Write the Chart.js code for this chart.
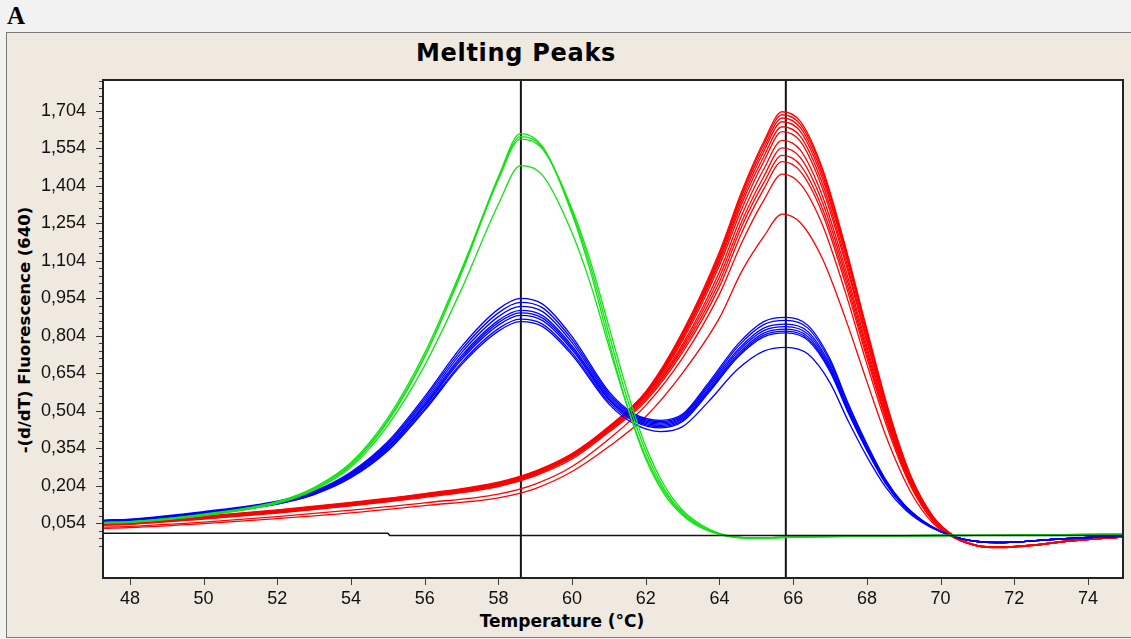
<!DOCTYPE html>
<html>
<head>
<meta charset="utf-8">
<script src="https://cdn.jsdelivr.net/npm/chart.js@4.4.1/dist/chart.umd.min.js"></script>
<style>
  html,body{margin:0;padding:0;background:#f2f2f2;width:1131px;height:639px;overflow:hidden;}
  #lblA{position:absolute;left:7px;top:3px;font-family:"Liberation Serif",serif;font-weight:bold;font-size:25px;line-height:25px;color:#000;}
  #frame{position:absolute;left:6px;top:32px;width:1135px;height:604px;background:#f0e9e0;border:1px solid #7a7a7a;}
  #title{position:absolute;left:316px;top:41px;width:400px;text-align:center;font-family:"DejaVu Sans",sans-serif;font-weight:bold;font-size:24px;line-height:24px;letter-spacing:0.7px;color:#000;}
  #xtitle{position:absolute;left:362px;top:613px;width:400px;text-align:center;font-family:"DejaVu Sans",sans-serif;font-weight:bold;font-size:17px;line-height:17px;color:#000;}
  #ytitle{position:absolute;left:24px;top:330px;transform:translate(-50%,-50%) rotate(-90deg);white-space:nowrap;font-family:"DejaVu Sans",sans-serif;font-weight:bold;font-size:16.5px;line-height:17px;color:#000;}
  #c{position:absolute;left:0;top:0;}
</style>
</head>
<body>
<div id="lblA">A</div>
<div id="frame"></div>
<div id="title">Melting Peaks</div>
<div id="xtitle">Temperature (°C)</div>
<div id="ytitle">-(d/dT) Fluorescence (640)</div>
<canvas id="c" width="1131" height="639"></canvas>
<script>
// ---------- axes ----------
const xTickValues = [48,50,52,54,56,58,60,62,64,66,68,70,72,74];
const xTickLabels = ['48','50','52','54','56','58','60','62','64','66','68','70','72','74'];
const yTickValues = [0.054,0.204,0.354,0.504,0.654,0.804,0.954,1.104,1.254,1.404,1.554,1.704];
const yTickLabels = ['0,054','0,204','0,354','0,504','0,654','0,804','0,954','1,104','1,254','1,404','1,554','1,704'];
const xMin = 47.27, xMax = 74.95, yMin = -0.166, yMax = 1.827;

// ---------- cursors and baseline ----------
const cursorTemps = [58.61, 65.80];
const baselineX = [47.27, 55.0, 55.05, 74.95];
const baselineY = [0.013, 0.013, 0.004, 0.004];

// ---------- green curves ----------
const greenX = [47.3,48,50,52,53,54,55,56,57,58,58.6,59.2,60,60.5,61,61.5,62,62.5,63,63.5,64,64.5,65,66,68,70,72,74,75];
const green1 = [0.055,0.058,0.085,0.135,0.19,0.285,0.46,0.72,1.06,1.44,1.612,1.56,1.29,1.06,0.78,0.52,0.31,0.17,0.085,0.035,0.008,-0.004,-0.006,-0.002,0.002,0.004,0.005,0.008,0.01];
const green2 = [0.056,0.06,0.088,0.138,0.194,0.29,0.465,0.72,1.055,1.43,1.60,1.555,1.30,1.08,0.81,0.55,0.34,0.19,0.097,0.042,0.011,-0.003,-0.006,-0.002,0.002,0.004,0.005,0.008,0.01];
const green3 = [0.057,0.06,0.09,0.14,0.196,0.296,0.475,0.735,1.07,1.43,1.59,1.55,1.31,1.10,0.84,0.58,0.36,0.205,0.105,0.047,0.013,-0.002,-0.006,-0.002,0.002,0.004,0.005,0.008,0.01];
const green4 = [0.054,0.057,0.084,0.133,0.186,0.278,0.445,0.685,0.99,1.33,1.484,1.445,1.215,1.01,0.76,0.52,0.32,0.18,0.09,0.038,0.009,-0.004,-0.006,-0.002,0.002,0.004,0.005,0.008,0.01];

// ---------- blue curves ----------
const blueX = [47.3,48,50,52,53,54,55,56,57,58,58.6,59.2,60,61,61.7,62.4,63,63.7,64.5,65.2,65.8,66.4,67,67.5,68,68.5,69,69.5,70,70.5,71,71.5,72,73,74,75];
const blue1 = [0.066,0.07,0.1,0.142,0.182,0.258,0.38,0.56,0.76,0.91,0.953,0.93,0.8,0.58,0.49,0.465,0.49,0.615,0.77,0.86,0.877,0.845,0.71,0.53,0.37,0.23,0.13,0.065,0.022,-0.006,-0.02,-0.024,-0.022,-0.012,-0.004,0.002];
const blue2 = [0.064,0.068,0.097,0.139,0.179,0.254,0.374,0.551,0.748,0.895,0.937,0.915,0.788,0.572,0.485,0.46,0.485,0.607,0.76,0.848,0.865,0.834,0.7,0.523,0.365,0.227,0.128,0.064,0.021,-0.006,-0.02,-0.024,-0.022,-0.012,-0.004,0.002];
const blue3 = [0.062,0.066,0.095,0.136,0.176,0.25,0.368,0.542,0.736,0.88,0.921,0.9,0.776,0.565,0.48,0.455,0.48,0.6,0.748,0.834,0.85,0.82,0.688,0.514,0.358,0.223,0.126,0.063,0.021,-0.006,-0.02,-0.024,-0.022,-0.012,-0.004,0.002];
const blue4 = [0.063,0.067,0.096,0.137,0.177,0.248,0.362,0.533,0.724,0.865,0.905,0.884,0.763,0.557,0.475,0.45,0.475,0.592,0.74,0.824,0.84,0.81,0.68,0.508,0.354,0.22,0.124,0.062,0.02,-0.006,-0.02,-0.024,-0.022,-0.012,-0.004,0.002];
const blue5 = [0.06,0.064,0.093,0.134,0.173,0.244,0.357,0.526,0.716,0.856,0.895,0.874,0.755,0.551,0.47,0.445,0.47,0.585,0.731,0.814,0.83,0.8,0.672,0.502,0.35,0.218,0.123,0.061,0.02,-0.006,-0.02,-0.024,-0.022,-0.012,-0.004,0.002];
const blue6 = [0.061,0.065,0.094,0.135,0.174,0.242,0.353,0.52,0.708,0.846,0.885,0.864,0.747,0.546,0.465,0.44,0.465,0.58,0.724,0.806,0.822,0.792,0.666,0.497,0.347,0.216,0.122,0.061,0.02,-0.006,-0.02,-0.024,-0.022,-0.012,-0.004,0.002];
const blue7 = [0.059,0.063,0.091,0.131,0.17,0.238,0.347,0.511,0.696,0.832,0.87,0.85,0.735,0.538,0.46,0.435,0.46,0.574,0.718,0.799,0.815,0.785,0.66,0.493,0.344,0.214,0.121,0.06,0.019,-0.006,-0.02,-0.024,-0.022,-0.012,-0.004,0.002];
const blue8 = [0.058,0.062,0.09,0.13,0.168,0.235,0.343,0.505,0.688,0.822,0.86,0.84,0.726,0.53,0.45,0.42,0.44,0.54,0.67,0.742,0.757,0.73,0.615,0.46,0.32,0.2,0.113,0.056,0.018,-0.006,-0.02,-0.024,-0.022,-0.012,-0.004,0.002];

// ---------- red curves ----------
const redX = [47.3,48,50,52,54,56,58,59,60,61,62,63,64,64.6,65.2,65.7,66.2,66.8,67.4,68,68.6,69.2,69.8,70.4,71,71.6,72.5,73.5,74.5,75];
const red1  = [0.055,0.058,0.08,0.105,0.135,0.17,0.215,0.26,0.33,0.44,0.58,0.82,1.14,1.38,1.58,1.70,1.66,1.47,1.17,0.83,0.5,0.24,0.08,0.0,-0.035,-0.042,-0.035,-0.018,-0.006,-0.002];
const red2  = [0.052,0.056,0.078,0.103,0.133,0.168,0.212,0.257,0.326,0.436,0.575,0.812,1.13,1.37,1.57,1.688,1.648,1.46,1.16,0.82,0.495,0.237,0.078,-0.002,-0.036,-0.043,-0.035,-0.018,-0.006,-0.002];
const red3  = [0.058,0.061,0.082,0.107,0.137,0.172,0.218,0.262,0.332,0.44,0.578,0.81,1.12,1.36,1.555,1.675,1.635,1.445,1.15,0.815,0.49,0.235,0.077,-0.002,-0.036,-0.042,-0.034,-0.017,-0.006,-0.002];
const red4  = [0.05,0.054,0.076,0.1,0.13,0.165,0.21,0.255,0.325,0.435,0.572,0.8,1.11,1.345,1.54,1.66,1.62,1.43,1.14,0.805,0.485,0.232,0.075,-0.003,-0.037,-0.043,-0.035,-0.018,-0.006,-0.002];
const red5  = [0.056,0.059,0.08,0.104,0.134,0.168,0.214,0.258,0.328,0.437,0.57,0.795,1.1,1.33,1.52,1.64,1.6,1.41,1.12,0.79,0.475,0.228,0.073,-0.003,-0.036,-0.042,-0.034,-0.017,-0.005,-0.002];
const red6  = [0.048,0.052,0.074,0.098,0.127,0.162,0.206,0.25,0.32,0.43,0.565,0.785,1.085,1.31,1.5,1.62,1.58,1.39,1.105,0.78,0.47,0.225,0.072,-0.004,-0.037,-0.043,-0.035,-0.018,-0.006,-0.002];
const red7  = [0.053,0.057,0.078,0.102,0.131,0.165,0.209,0.252,0.322,0.43,0.56,0.77,1.06,1.285,1.47,1.585,1.545,1.36,1.08,0.76,0.46,0.22,0.07,-0.004,-0.036,-0.042,-0.034,-0.017,-0.005,-0.002];
const red8  = [0.047,0.05,0.072,0.096,0.125,0.16,0.203,0.247,0.316,0.424,0.552,0.76,1.04,1.26,1.44,1.555,1.515,1.335,1.06,0.745,0.45,0.215,0.068,-0.005,-0.037,-0.043,-0.035,-0.018,-0.006,-0.002];
const red9  = [0.051,0.055,0.076,0.1,0.129,0.163,0.207,0.25,0.318,0.425,0.55,0.75,1.02,1.24,1.415,1.525,1.485,1.31,1.04,0.73,0.44,0.21,0.066,-0.005,-0.036,-0.042,-0.034,-0.017,-0.005,-0.002];
const red10 = [0.045,0.049,0.07,0.094,0.123,0.157,0.2,0.243,0.31,0.418,0.542,0.738,1.0,1.215,1.39,1.50,1.46,1.29,1.02,0.715,0.43,0.205,0.064,-0.006,-0.037,-0.043,-0.035,-0.018,-0.006,-0.002];
const red11 = [0.038,0.041,0.058,0.08,0.106,0.135,0.17,0.21,0.28,0.39,0.525,0.715,0.97,1.175,1.345,1.45,1.41,1.245,0.985,0.69,0.415,0.198,0.06,-0.007,-0.038,-0.044,-0.036,-0.018,-0.006,-0.002];
const red12 = [0.033,0.036,0.052,0.072,0.095,0.124,0.155,0.192,0.26,0.36,0.48,0.655,0.875,1.06,1.2,1.29,1.255,1.11,0.88,0.62,0.37,0.175,0.052,-0.008,-0.038,-0.044,-0.036,-0.018,-0.006,-0.002];

const GREEN = '#10e410', BLUE = '#0000ff', RED = '#ff0000', BLACK = '#141414';

function pts(xs, ys){ return xs.map((x,i)=>({x:x, y:ys[i]})); }
function curve(xs, ys, color){
  return {data: pts(xs, ys), borderColor: color, borderWidth: 1.3, pointRadius: 0,
          fill: false, cubicInterpolationMode: 'monotone'};
}

const datasets = [];
datasets.push({data: pts(baselineX, baselineY), borderColor: BLACK, borderWidth: 1.6, pointRadius: 0, tension: 0});
[green1, green2, green3, green4].forEach(g => datasets.push(curve(greenX, g, GREEN)));
[blue1, blue2, blue3, blue4, blue5, blue6, blue7, blue8].forEach(b => datasets.push(curve(blueX, b, BLUE)));
[red1, red2, red3, red4, red5, red6, red7, red8, red9, red10, red11, red12].forEach(r => datasets.push(curve(redX, r, RED)));
cursorTemps.forEach(t => datasets.push({data: [{x:t, y:yMin}, {x:t, y:yMax}], borderColor: BLACK, borderWidth: 2, pointRadius: 0, tension: 0}));

const framePlugin = {
  id: 'frameDeco',
  beforeDraw(chart){
    const {ctx, chartArea: a} = chart;
    ctx.save();
    ctx.fillStyle = '#ffffff';
    ctx.fillRect(a.left, a.top, a.right - a.left, a.bottom - a.top);
    ctx.restore();
  },
  afterDraw(chart){
    const {ctx, chartArea: a, scales} = chart;
    const xs = scales.x, ys = scales.y;
    ctx.save();
    ctx.strokeStyle = '#3c3c3c';
    ctx.lineWidth = 1;
    ctx.beginPath();
    for (let k = -3; k <= 59; k++) {
      const v = 0.054 + 0.03 * k;
      const py = Math.round(ys.getPixelForValue(v)) + 0.5;
      const len = (k % 5 === 0) ? 7 : 4;
      ctx.moveTo(a.left - len, py); ctx.lineTo(a.left, py);
    }
    xTickValues.forEach(v => {
      const px = Math.round(xs.getPixelForValue(v)) + 0.5;
      ctx.moveTo(px, a.bottom); ctx.lineTo(px, a.bottom + 7);
    });
    ctx.stroke();
    ctx.strokeStyle = '#222';
    ctx.lineWidth = 2;
    ctx.strokeRect(a.left, a.top, a.right - a.left, a.bottom - a.top);
    ctx.restore();
  }
};

new Chart(document.getElementById('c'), {
  type: 'line',
  data: {datasets},
  plugins: [framePlugin],
  options: {
    responsive: false,
    devicePixelRatio: 1,
    animation: false,
    events: [],
    layout: {padding: {top: 80, right: 8, left: 0, bottom: 0}},
    plugins: {legend: {display: false}, tooltip: {enabled: false}, title: {display: false}},
    scales: {
      x: {
        type: 'linear', min: xMin, max: xMax,
        grid: {display: false}, border: {display: false},
        afterBuildTicks: s => { s.ticks = xTickValues.map(v => ({value: v})); },
        afterFit: s => { s.height = 61; },
        ticks: {autoSkip: false, maxRotation: 0, padding: 2, color: '#111',
                font: {family: '"Liberation Sans", Arial, sans-serif', size: 18},
                callback: (v, i) => xTickLabels[i]}
      },
      y: {
        type: 'linear', min: yMin, max: yMax,
        grid: {display: false}, border: {display: false},
        afterBuildTicks: s => { s.ticks = yTickValues.map(v => ({value: v})); },
        afterFit: s => { s.width = 103; },
        ticks: {autoSkip: false, padding: 9, color: '#111',
                font: {family: '"Liberation Sans", Arial, sans-serif', size: 18},
                callback: (v, i) => yTickLabels[i]}
      }
    }
  }
});
</script>
</body>
</html>
